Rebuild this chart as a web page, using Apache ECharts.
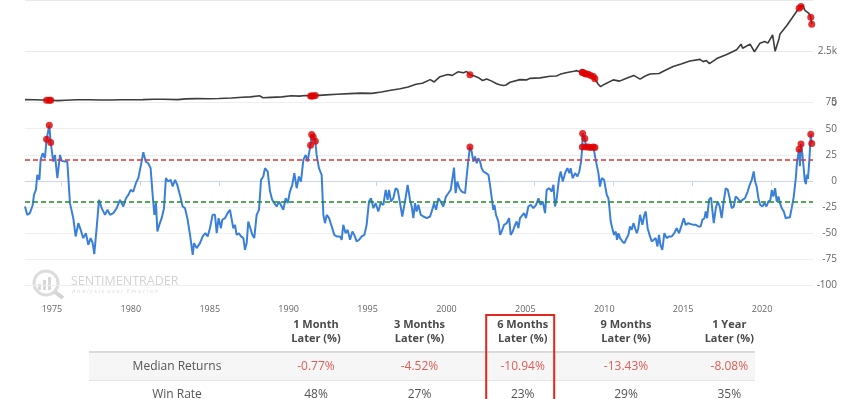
<!DOCTYPE html>
<html><head><meta charset="utf-8">
<script src="https://cdn.jsdelivr.net/npm/echarts@6/dist/echarts.min.js"></script>
<style>html,body{margin:0;padding:0;background:#fff}#c{width:853px;height:399px}</style>
</head><body><div id="c"></div>
<script>
const yearTicks = [1975,1980,1985,1990,1995,2000,2005,2010,2015,2020];
const upperThreshold = 20;
const lowerThreshold = -19.5;

const price = [
[1972.72,150],[1973.3,145],[1973.8,135],[1974.09,125],[1974.26,120],[1974.35,115],[1974.8,100],[1975.3,120],[1976.0,140],[1976.8,145],[1977.5,135],[1978.2,130],[1978.8,140],[1979.5,145],[1980.2,150],[1980.9,170],[1981.5,165],[1982.4,150],[1982.9,185],[1983.6,200],[1984.4,190],[1985.0,205],[1985.8,230],[1986.5,265],[1987.0,285],[1987.6,335],[1987.8,240],[1988.3,260],[1989.0,285],[1989.6,340],[1990.1,320],[1990.5,350],[1990.82,330],[1990.89,325],[1990.99,330],[1991.12,345],[1991.8,380],[1992.5,410],[1993.3,440],[1994.0,465],[1994.7,455],[1995.3,520],[1995.9,610],[1996.5,680],[1997.0,760],[1997.5,900],[1997.9,950],[1998.4,1124],[1998.65,1010],[1999.02,1267],[1999.5,1370],[1999.8,1330],[2000.16,1504],[2000.5,1460],[2000.71,1518],[2000.92,1362],[2001.2,1300],[2001.5,1200],[2001.72,1080],[2001.98,1157],[2002.3,1050],[2002.61,920],[2002.8,870],[2003.03,840],[2003.2,860],[2003.46,996],[2004.09,1124],[2004.5,1110],[2004.73,1186],[2005.36,1210],[2005.99,1290],[2006.4,1300],[2006.63,1380],[2007.0,1460],[2007.5,1530],[2007.7,1560],[2007.9,1500],[2008.04,1480],[2008.06,1470],[2008.20,1420],[2008.27,1400],[2008.42,1380],[2008.57,1320],[2008.74,1270],[2008.84,1160],[2009.05,900],[2009.2,780],[2009.4,880],[2009.58,949],[2010.0,1110],[2010.4,1050],[2010.8,1180],[2011.3,1330],[2011.7,1150],[2012.0,1290],[2012.33,1400],[2012.9,1420],[2013.3,1580],[2013.8,1760],[2014.3,1880],[2014.86,2030],[2015.5,2110],[2015.7,2000],[2015.9,2050],[2016.1,1900],[2016.56,2150],[2017.19,2350],[2017.82,2580],[2018.1,2850],[2018.2,2650],[2018.67,2850],[2018.95,2480],[2019.3,2900],[2019.6,2980],[2019.8,2900],[2020.1,3300],[2020.26,2500],[2020.5,3100],[2020.57,3350],[2020.99,3750],[2021.31,4100],[2021.63,4450],[2021.78,4600],[2021.90,4680],[2022.0,4750],[2022.15,4500],[2022.26,4450],[2022.4,4350],[2022.52,4160],[2022.58,3814]
];

const priceSignals = [
[1974.09,125],[1974.26,120],[1974.35,115],[1990.82,330],[1990.89,325],[1990.99,330],[1991.12,345],[2000.92,1362],[2008.04,1480],[2008.06,1470],[2008.20,1420],[2008.27,1400],[2008.42,1380],[2008.57,1320],[2008.74,1270],[2008.84,1160],[2021.78,4600],[2021.90,4680],[2022.52,4160],[2022.58,3814]
];

const sentiment = [
[1972.72,-24.5],[1972.86,-32.5],[1973.03,-30.9],[1973.20,-23.6],[1973.29,-13.4],[1973.41,-8.6],[1973.50,5.8],[1973.63,1.0],[1973.71,20.1],[1973.84,26.5],[1973.98,21.7],[1974.09,39.8],[1974.26,53.2],[1974.35,36.7],[1974.51,18.5],[1974.62,24.9],[1974.77,2.6],[1974.94,24.9],[1975.04,19.2],[1975.25,18.5],[1975.40,18.5],[1975.57,-21.3],[1975.78,-35.7],[1975.93,-53.2],[1976.10,-40.5],[1976.25,-46.9],[1976.41,-54.8],[1976.58,-50.1],[1976.73,-61.2],[1976.88,-54.8],[1977.01,-59.6],[1977.11,-70.2],[1977.26,-45.3],[1977.41,-18.2],[1977.58,-26.1],[1977.79,-32.5],[1977.94,-27.7],[1978.11,-32.5],[1978.32,-30.9],[1978.53,-26.1],[1978.74,-18.2],[1978.95,-24.5],[1979.12,-16.6],[1979.27,-13.4],[1979.42,-8.6],[1979.58,-10.2],[1979.75,-2.2],[1979.90,2.6],[1980.05,13.7],[1980.22,27.5],[1980.37,18.5],[1980.53,16.9],[1980.68,12.2],[1980.81,-13.4],[1980.92,-32.5],[1981.02,-21.3],[1981.11,-48.5],[1981.23,-42.1],[1981.38,-35.7],[1981.53,-26.1],[1981.65,2.6],[1981.80,-0.6],[1981.95,1.0],[1982.08,-5.4],[1982.23,1.0],[1982.37,-3.8],[1982.54,-13.4],[1982.71,-24.5],[1982.86,-26.1],[1983.01,-35.7],[1983.18,-51.7],[1983.35,-70.8],[1983.43,-59.6],[1983.60,-64.4],[1983.81,-59.6],[1983.98,-53.2],[1984.15,-50.1],[1984.30,-53.2],[1984.44,-45.3],[1984.61,-32.5],[1984.76,-32.5],[1984.87,-50.1],[1984.99,-35.7],
[1985.14,-45.3],[1985.22,-37.3],[1985.39,-35.7],[1985.56,-30.9],[1985.71,-27.7],[1985.82,-26.1],[1985.92,-45.3],[1986.03,-42.1],[1986.13,-51.7],[1986.28,-50.1],[1986.41,-53.2],[1986.56,-54.8],[1986.66,-66.0],[1986.77,-59.6],[1986.87,-38.9],[1986.98,-40.5],[1987.13,-51.7],[1987.25,-54.8],[1987.40,-32.5],[1987.55,-27.7],[1987.68,1.0],[1987.82,4.2],[1987.93,12.2],[1988.10,9.0],[1988.25,-10.2],[1988.39,-18.2],[1988.52,-21.3],[1988.67,-24.5],[1988.82,-19.8],[1988.94,-18.2],[1989.09,-27.7],[1989.24,-16.6],[1989.37,-21.3],[1989.51,-10.2],[1989.66,-3.8],[1989.79,7.4],[1989.94,-7.0],[1990.08,4.2],[1990.21,-0.6],[1990.36,20.1],[1990.51,24.9],[1990.63,18.5],[1990.72,26.5],[1990.82,34.2],[1990.89,44.4],[1990.99,42.1],[1991.12,38.0],[1991.20,24.9],[1991.35,12.2],[1991.52,5.8],[1991.63,-32.5],[1991.73,-40.5],[1991.84,-32.5],[1991.99,-35.7],[1992.16,-43.7],[1992.32,-51.7],[1992.47,-53.2],[1992.68,-53.2],[1992.79,-56.4],[1992.89,-42.1],[1993.04,-50.1],[1993.17,-46.9],[1993.32,-56.4],[1993.47,-48.5],[1993.59,-51.7],[1993.74,-58.0],[1993.89,-56.4],[1994.06,-53.2],[1994.23,-51.7],[1994.37,-42.1],[1994.52,-19.8],[1994.65,-16.6],[1994.80,-26.1],[1994.94,-21.3],[1995.11,-29.3],[1995.26,-21.3],[1995.43,-22.9],[1995.58,-8.6],[1995.70,-18.2],[1995.79,-8.6],[1995.92,-19.8],[1996.06,-16.6],[1996.21,-7.0],[1996.34,-8.6],[1996.49,-21.3],[1996.63,-34.1],[1996.80,-19.8],[1996.97,-3.8],[1997.12,-18.2],
[1997.23,-24.5],[1997.33,-35.7],[1997.44,-21.3],[1997.54,-29.3],[1997.65,-22.9],[1997.80,-32.5],[1997.97,-34.1],[1998.18,-35.7],[1998.39,-34.1],[1998.56,-26.1],[1998.64,-21.3],[1998.77,-27.7],[1998.92,-16.6],[1999.06,-19.8],[1999.23,-24.5],[1999.40,-15.0],[1999.55,-11.8],[1999.70,-8.6],[1999.82,-7.0],[1999.91,12.8],[2000.01,-11.8],[2000.12,-0.6],[2000.25,-7.0],[2000.40,-10.2],[2000.50,-8.6],[2000.61,-11.8],[2000.71,4.2],[2000.82,20.1],[2000.92,32.5],[2001.03,28.1],[2001.13,18.5],[2001.24,23.3],[2001.35,16.9],[2001.45,21.7],[2001.56,18.5],[2001.66,12.2],[2001.77,9.0],[2001.94,7.4],[2002.09,5.8],[2002.19,-3.8],[2002.30,-16.6],[2002.40,-27.7],[2002.47,-22.9],[2002.57,-32.5],[2002.72,-38.9],[2002.83,-51.7],[2002.93,-48.5],[2003.08,-42.1],[2003.25,-40.5],[2003.40,-35.7],[2003.50,-51.7],[2003.63,-48.5],[2003.78,-42.1],[2003.88,-38.9],[2003.99,-45.3],[2004.09,-35.7],[2004.20,-37.3],[2004.35,-30.9],[2004.47,-35.7],[2004.62,-24.5],[2004.77,-22.9],[2004.94,-26.1],[2005.11,-22.9],[2005.26,-16.6],[2005.40,-22.9],[2005.53,-19.8],[2005.68,-30.9],[2005.78,-8.6],[2005.95,-7.0],[2006.10,-10.2],[2006.21,-3.8],[2006.31,-24.5],[2006.42,-16.6],[2006.57,2.6],[2006.67,9.0],[2006.80,-0.6],[2006.95,7.4],[2007.09,12.2],[2007.22,7.4],[2007.30,12.2],[2007.43,2.6],[2007.58,7.4],[2007.73,4.2],[2007.85,9.0],[2007.96,18.5],[2008.04,32.5],[2008.06,45.4],[2008.20,40.6],[2008.27,32.5],[2008.42,32.5],[2008.57,31.9],[2008.74,32.5],[2008.84,31.9],[2008.91,18.5],[2009.06,7.4],[2009.16,-5.4],[2009.27,2.6],[2009.42,1.0],[2009.54,2.6],
[2009.59,-13.4],[2009.69,-16.6],[2009.75,-24.5],[2009.84,-38.9],[2009.94,-45.3],[2010.05,-51.7],[2010.16,-48.5],[2010.24,-56.4],[2010.33,-50.1],[2010.43,-54.8],[2010.58,-58.0],[2010.71,-59.6],[2010.85,-54.8],[2010.96,-51.7],[2011.06,-43.7],[2011.17,-46.9],[2011.28,-40.5],[2011.38,-38.9],[2011.49,-50.1],[2011.59,-45.3],[2011.70,-32.5],[2011.85,-42.1],[2011.97,-32.5],[2012.06,-29.3],[2012.18,-45.3],[2012.33,-53.2],[2012.44,-58.0],[2012.56,-59.6],[2012.69,-54.8],[2012.80,-62.8],[2012.90,-51.7],[2012.99,-61.2],[2013.11,-66.0],[2013.24,-50.1],[2013.39,-54.8],[2013.54,-53.2],[2013.71,-53.2],[2013.87,-50.1],[2014.02,-45.3],[2014.17,-50.1],[2014.34,-42.1],[2014.47,-35.7],[2014.59,-42.1],[2014.76,-40.5],[2014.93,-41.4],[2015.08,-42.1],[2015.23,-42.1],[2015.40,-43.7],[2015.54,-43.7],[2015.65,-37.3],[2015.78,-35.7],[2015.86,-29.3],[2015.95,-35.7],[2016.07,-18.2],[2016.20,-15.9],[2016.28,-27.7],[2016.37,-40.5],[2016.50,-26.1],[2016.62,-19.8],[2016.75,-24.5],[2016.87,-35.7],[2017.00,-19.8],[2017.13,-7.0],[2017.26,-8.6],[2017.38,-16.6],[2017.51,-26.1],[2017.64,-24.5],[2017.76,-15.0],[2017.89,-16.6],[2018.04,-19.8],[2018.19,-18.2],[2018.35,-16.6],[2018.52,-10.2],[2018.65,-3.8],[2018.78,1.0],[2018.90,9.0],[2018.99,-0.6],[2019.09,-5.4],[2019.20,-16.6],[2019.31,-22.9],[2019.45,-24.5],[2019.58,-21.3],[2019.71,-24.5],[2019.83,-19.8],[2019.96,-18.2],[2020.05,-8.6],[2020.15,-15.0],[2020.26,-7.0],[2020.36,-19.8],[2020.47,-15.0],[2020.57,-21.3],[2020.68,-26.1],[2020.81,-29.3],[2020.93,-35.7],[2021.06,-35.1],[2021.19,-35.1],[2021.31,-26.1],[2021.44,-15.0],[2021.57,2.6],[2021.65,18.5],[2021.72,25.0],[2021.78,30.3],[2021.83,14.0],[2021.90,35.4],[2021.99,24.9],[2022.07,12.2],[2022.14,0.0],[2022.21,-3.0],[2022.27,6.0],[2022.34,2.0],[2022.42,18.0],[2022.52,44.7],[2022.58,35.8]
];

const sentimentSignals = [
[1974.09,39.8],[1974.26,53.2],[1974.35,36.7],[1990.82,34.2],[1990.89,44.4],[1990.99,42.1],[1991.12,38.0],[2000.92,32.5],[2008.04,32.5],[2008.06,45.4],[2008.20,40.6],[2008.27,32.5],[2008.42,32.5],[2008.57,31.9],[2008.74,32.5],[2008.84,31.9],[2021.78,30.3],[2021.90,35.4],[2022.52,44.7],[2022.58,35.8]
];

const tableHeaders = ['1 Month\nLater (%)','3 Months\nLater (%)','6 Months\nLater (%)','9 Months\nLater (%)','1 Year\nLater (%)'];
const rowLabels = ['Median Returns','Win Rate'];
const medianReturns = ['-0.77%','-4.52%','-10.94%','-13.43%','-8.08%'];
const winRates = ['48%','27%','23%','29%','35%'];
const highlightedColumn = 2;

const FONT = '"Open Sans", "DejaVu Sans", sans-serif';
const xMin = 1972.72, xMax = 2022.66;
const colX = [316, 419.5, 522.7, 626, 729.3];
const labelX = 177;

const graphics = [];
// watermark
graphics.push({type:'circle', shape:{cx:46, cy:283, r:12}, style:{fill:'none', stroke:'#dcdcdc', lineWidth:3}, z:0});
graphics.push({type:'rect', shape:{x:38, y:284, width:3, height:6}, style:{fill:'#d8d8d8'}, z:0});
graphics.push({type:'rect', shape:{x:43, y:280, width:3, height:10}, style:{fill:'#d8d8d8'}, z:0});
graphics.push({type:'rect', shape:{x:48, y:277, width:3, height:13}, style:{fill:'#d8d8d8'}, z:0});
graphics.push({type:'line', shape:{x1:55, y1:292, x2:63, y2:298}, style:{stroke:'#d4d4d4', lineWidth:4}, z:0});
graphics.push({type:'text', x:71, y:281, style:{text:'SENTIMENTRADER', font:'12.5px '+FONT, fill:'#d3d3d3', verticalAlign:'middle'}, z:0});
graphics.push({type:'text', x:72, y:291, style:{text:'A n a l y s i s  o v e r  E m o t i o n', font:'italic 6px '+FONT, fill:'#dddddd', verticalAlign:'middle'}, z:0});
// table
graphics.push({type:'rect', shape:{x:89, y:352, width:666, height:28}, style:{fill:'#f6f6f6'}});
graphics.push({type:'line', shape:{x1:89, y1:352, x2:755, y2:352}, style:{stroke:'#dadada', lineWidth:2}});
graphics.push({type:'line', shape:{x1:89, y1:380.5, x2:755, y2:380.5}, style:{stroke:'#e6e6e6', lineWidth:1}});
tableHeaders.forEach((h,i)=>{
  graphics.push({type:'text', x:colX[i], y:332, style:{text:h, font:'bold 11px '+FONT, fill:'#4a4a4a', align:'center', verticalAlign:'middle', lineHeight:14.5}});
  graphics.push({type:'text', x:colX[i], y:367, style:{text:medianReturns[i], font:'12px '+FONT, fill:'#dd5e56', align:'center', verticalAlign:'middle'}});
  graphics.push({type:'text', x:colX[i], y:395, style:{text:winRates[i], font:'12px '+FONT, fill:'#555555', align:'center', verticalAlign:'middle'}});
});
graphics.push({type:'text', x:labelX, y:367, style:{text:rowLabels[0], font:'12px '+FONT, fill:'#555555', align:'center', verticalAlign:'middle'}});
graphics.push({type:'text', x:labelX, y:395, style:{text:rowLabels[1], font:'12px '+FONT, fill:'#555555', align:'center', verticalAlign:'middle'}});
graphics.push({type:'rect', shape:{x:colX[highlightedColumn]-36.5, y:315, width:68, height:100}, style:{fill:'none', stroke:'#e3261f', lineWidth:2}, z:10});

const chart = echarts.init(document.getElementById('c'), null, {renderer:'canvas'});
chart.setOption({
  animation: false,
  backgroundColor: '#fff',
  textStyle: {fontFamily: FONT},
  grid: [
    {left:25, right:40, top:-2.7, height:105.4},
    {left:25, right:40, top:102.6, height:208.8}
  ],
  xAxis: [
    {type:'value', gridIndex:0, min:xMin, max:xMax, show:false},
    {type:'value', gridIndex:1, min:xMin, max:xMax, offset:-11.3,
     axisLine:{show:true, lineStyle:{color:'#ccd6eb', width:1}},
     axisTick:{show:true, customValues:yearTicks, length:5, lineStyle:{color:'#ccd6eb'}},
     axisLabel:{customValues:yearTicks, fontSize:9, color:'#666', margin:5, padding:[0,18,0,0], fontFamily:FONT,
       formatter: v => String(Math.round(v))},
     splitLine:{show:false}}
  ],
  yAxis: [
    {type:'value', gridIndex:0, position:'right', min:0, max:5000, interval:2500,
     axisLine:{show:false}, axisTick:{show:false},
     splitLine:{show:true, lineStyle:{color:'#e9e9e9', width:1}},
     axisLabel:{showMaxLabel:false, align:'right', margin:24, fontSize:10, color:'#666', fontFamily:FONT,
       formatter: v => v === 0 ? '0' : (v/1000)+'k'}},
    {type:'value', gridIndex:1, position:'right', min:-125, max:75, interval:25,
     axisLine:{show:false}, axisTick:{show:false},
     splitLine:{show:true, showMinLine:false, lineStyle:{color:'#efefef', width:1}},
     axisLabel:{showMinLabel:false, align:'right', margin:24, fontSize:10, color:'#666', padding:[0,0,9,0], fontFamily:FONT}}
  ],
  graphic: graphics,
  series: [
    {type:'line', xAxisIndex:0, yAxisIndex:0, data:price, showSymbol:false, lineStyle:{color:'#3d3d3d', width:1.6}, z:2},
    {type:'scatter', xAxisIndex:0, yAxisIndex:0, data:priceSignals, symbolSize:7, itemStyle:{color:'#e00000'}, z:3},
    {type:'line', xAxisIndex:1, yAxisIndex:1, data:sentiment, showSymbol:false, lineStyle:{color:'#3a80d9', width:2}, z:2,
     markLine:{silent:true, symbol:'none', label:{show:false},
       data:[
         {yAxis:upperThreshold, lineStyle:{color:'#e43030', type:[5,3], width:1.6}},
         {yAxis:lowerThreshold, lineStyle:{color:'#1e8c1e', type:[5,3], width:1.6}}
       ]}},
    {type:'scatter', xAxisIndex:1, yAxisIndex:1, data:sentimentSignals, symbolSize:7, itemStyle:{color:'#e00000'}, z:3}
  ]
});
</script>
</body></html>
